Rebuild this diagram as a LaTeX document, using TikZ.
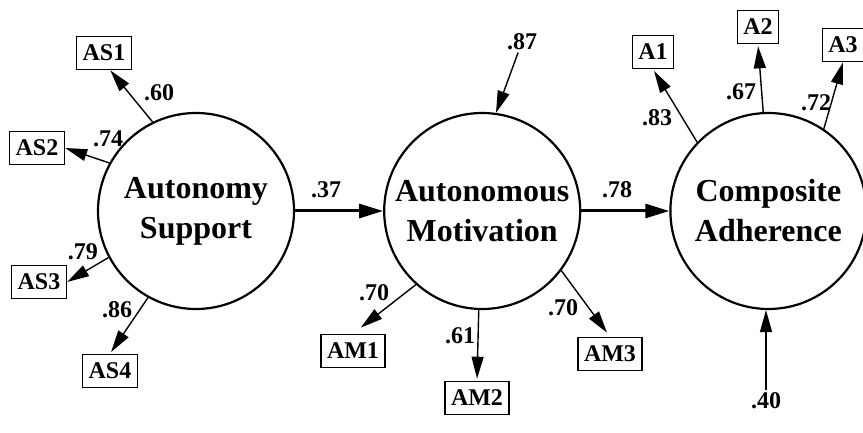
\documentclass[tikz,border=0pt]{standalone}
\usepackage{fontspec}
\setmainfont{Liberation Serif}
\usetikzlibrary{arrows.meta,positioning}
\tikzset{
  latent/.style={circle, draw, line width=1.1pt, minimum size=98pt, inner sep=0pt,
                 align=center, font=\fontsize{16}{20}\selectfont\bfseries},
  indic/.style={rectangle, draw, line width=0.8pt, inner xsep=3pt, inner ysep=0pt,
                minimum height=16.5pt, font=\fontsize{12}{13}\selectfont\bfseries},
  coef/.style={inner sep=1pt, font=\fontsize{12}{13}\selectfont\bfseries},
  load/.style={-{Triangle[length=11pt,width=6pt]}, line width=0.7pt},
  struct/.style={-{Triangle[length=12pt,width=7pt]}, line width=1.5pt},
}
\begin{document}
\begin{tikzpicture}[x=0.5pt, y=-0.5pt, node distance=44pt]
\useasboundingbox (0,0) rectangle (863,433);
% latent variables
\node[latent] (asup) at (196,211) {Autonomy\\Support};
\node[latent, right=of asup] (amot) {Autonomous\\Motivation};
\node[latent, right=of amot] (cadh) {Composite\\Adherence};
% indicators
\node[indic] (as1) at (104,53) {AS1};
\node[indic] (as2) at (37,148) {AS2};
\node[indic] (as3) at (39,282) {AS3};
\node[indic] (as4) at (110,371) {AS4};
\node[indic] (am1) at (353,351) {AM1};
\node[indic] (am2) at (477,398) {AM2};
\node[indic] (am3) at (610,354) {AM3};
\node[indic] (a1) at (653,52) {A1};
\node[indic] (a2) at (758,27) {A2};
\node[indic] (a3) at (843,45) {A3};
% loadings
\draw[load] (asup.116) -- (as1.-70);
\draw[load] (asup.151) -- (as2.east);
\draw[load] (asup.208) -- (as3.east);
\draw[load, shorten >=1pt] (asup.241) -- (as4.north);
\draw[load, shorten >=5pt] (amot.228) -- (am1.north);
\draw[load, shorten >=1pt] (amot.268) -- (am2.north);
\draw[load, shorten >=2.5pt] (amot.323) -- (am3.north);
\draw[load, shorten >=1pt] (cadh.136) -- (a1.south);
\draw[load, shorten >=1pt] (cadh.93) -- (a2.south);
\draw[load] (cadh.56) -- (a3.south);
\node[coef] (w-as1) at (159,93) {.60};
\node[coef] (w-as2) at (108,139) {.74};
\node[coef] (w-as3) at (83,252) {.79};
\node[coef] (w-as4) at (117,310) {.86};
\node[coef] (w-am1) at (374,293) {.70};
\node[coef] (w-am2) at (460,336) {.61};
\node[coef] (w-am3) at (563,308) {.70};
\node[coef] (w-a1) at (657,118) {.83};
\node[coef] (w-a2) at (741,92) {.67};
\node[coef] (w-a3) at (816,103) {.72};
% structural paths
\draw[struct] (asup) -- (amot);
\draw[struct] (amot) -- (cadh);
\node[coef] (b-am) at (326,190) {.37};
\node[coef] (b-ca) at (617,190) {.78};
% residuals
\node[coef] (e-am) at (522,42) {.87};
\node[coef] (e-ca) at (766,401) {.40};
\draw[load] (e-am) -- (amot.82);
\draw[load] (e-ca) -- (e-ca |- cadh.south);
\end{tikzpicture}
\end{document}
